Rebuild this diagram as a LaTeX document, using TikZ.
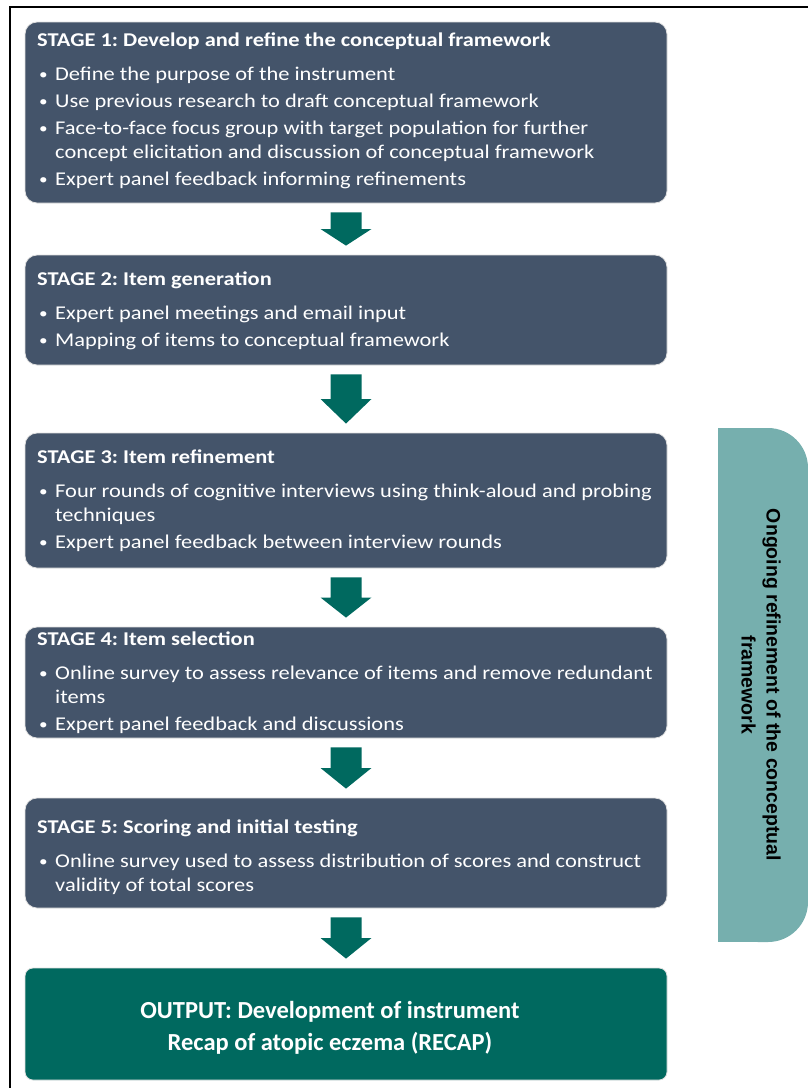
\documentclass[tikz,border=0pt]{standalone}
\usepackage{fontspec}
\setmainfont{Carlito}
\newfontfamily\stagefont{Carlito}[FakeStretch=1.15]
\newfontfamily\arialfont{Liberation Sans}
\usetikzlibrary{calc}
\frenchspacing

\definecolor{stageblue}{HTML}{44546A}
\definecolor{darkteal}{HTML}{00695F}
\definecolor{lightteal}{HTML}{76AFAE}

\newcommand{\stagehead}[1]{\noindent\textbf{#1}\par\vspace{7pt}}
\newcommand{\stageitem}[1]{\par\vspace{3pt}\hangindent=18pt\hangafter=1\noindent\hspace*{2pt}\makebox[16pt][l]{\fontsize{15}{15}\selectfont\raisebox{0.6pt}{\textbullet}}#1}
\newcommand{\stagearrow}[2]{%
  \coordinate (mid) at ($(#1.south)!0.5!(#2.north)$);
  \fill[darkteal] ($(#1.south)+(-15.5,9)$) -- ($(#1.south)+(15.5,9)$)
    -- ($(mid)+(15.5,0)$) -- ($(mid)+(25.5,0)$) -- ($(#2.north)+(0,-9)$)
    -- ($(mid)+(-25.5,0)$) -- ($(mid)+(-15.5,0)$) -- cycle;}

\begin{document}
\begin{tikzpicture}[x=1pt, y=-1pt,
  stagebox/.style={rectangle, rounded corners=12pt, fill=stageblue, draw=black!12,
    line width=0.8pt, minimum width=642pt, inner sep=0pt},
  stagetext/.style={anchor=base west, inner sep=0pt, text=white,
    font=\stagefont\fontsize{19.5}{24}\selectfont},
  outbox/.style={rectangle, rounded corners=8pt, fill=darkteal, draw=black!12,
    line width=0.8pt, minimum width=642pt, minimum height=112pt, inner sep=0pt}]
  \useasboundingbox (0,0) rectangle (808,1088);
  \draw[line width=2pt] (808,7) -- (10,7) -- (10,1088);

  % side bar
  \fill[lightteal, rounded corners=40pt] (718,428) rectangle (808,942);
  \fill[lightteal] (718,428) rectangle (770,942);
  \node[rotate=-90, align=center, inner sep=0pt,
    font=\arialfont\bfseries\fontsize{19.5}{25}\selectfont] (ongoing) at (761,685)
    {Ongoing refinement of the conceptual\\framework};

  % stages
  \node[stagebox, minimum height=181pt] (s1) at (346,112.5) {};
  \node[stagebox, minimum height=110pt] (s2) at (346,310) {};
  \node[stagebox, minimum height=135pt] (s3) at (346,500.5) {};
  \node[stagebox, minimum height=111pt] (s4) at (346,682.5) {};
  \node[stagebox, minimum height=110pt] (s5) at (346,853) {};
  \node[outbox] (out) at (346,1024) {};

  \node[stagetext] (t1) at (37,46) {\parbox[t]{680pt}{%
    \stagehead{STAGE 1: Develop and refine the conceptual framework}
    \stageitem{Define the purpose of the instrument}
    \stageitem{Use previous research to draft conceptual framework}
    \stageitem{Face-to-face focus group with target population for further\newline
      concept elicitation and discussion of conceptual framework}
    \stageitem{Expert panel feedback informing refinements}}};
  \node[stagetext] (t2) at (37,285) {\parbox[t]{680pt}{%
    \stagehead{STAGE 2: Item generation}
    \stageitem{Expert panel meetings and email input}
    \stageitem{Mapping of items to conceptual framework}}};
  \node[stagetext] (t3) at (37,463) {\parbox[t]{680pt}{%
    \stagehead{STAGE 3: Item refinement}
    \stageitem{Four rounds of cognitive interviews using think-aloud and probing\newline
      techniques}
    \stageitem{Expert panel feedback between interview rounds}}};
  \node[stagetext] (t4) at (37,645) {\parbox[t]{680pt}{%
    \stagehead{STAGE 4: Item selection}
    \stageitem{Online survey to assess relevance of items and remove redundant\newline
      items}
    \stageitem{Expert panel feedback and discussions}}};
  \node[stagetext] (t5) at (37,833) {\parbox[t]{680pt}{%
    \stagehead{STAGE 5: Scoring and initial testing}
    \stageitem{Online survey used to assess distribution of scores and construct\newline
      validity of total scores}}};
  \node[anchor=base, inner sep=0pt, text=white,
    font=\fontsize{24.5}{32}\selectfont\bfseries] (outtext) at (330,1018)
    {\parbox[t]{440pt}{\centering OUTPUT: Development of instrument\\
      Recap of atopic eczema (RECAP)}};

  % arrows
  \stagearrow{s1}{s2}
  \stagearrow{s2}{s3}
  \stagearrow{s3}{s4}
  \stagearrow{s4}{s5}
  \stagearrow{s5}{out}
\end{tikzpicture}
\end{document}
